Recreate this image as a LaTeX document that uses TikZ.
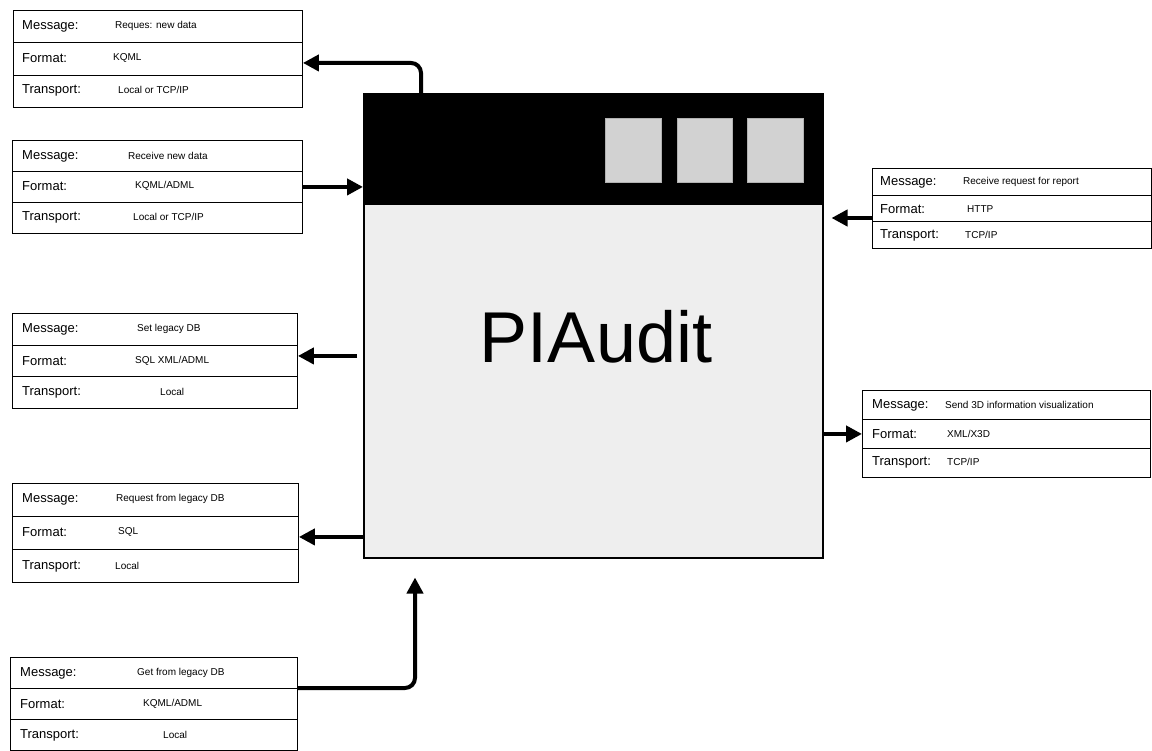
\documentclass[tikz,border=0pt]{standalone}
\usepackage{fontspec}
\setmainfont{Liberation Sans}
\usetikzlibrary{calc,arrows.meta}
\tikzset{
  infobox/.style={draw=black, line width=0.9pt, fill=white, inner sep=0pt, anchor=north west},
  lab/.style={anchor=west, inner sep=0pt, font=\fontsize{13}{15}\selectfont},
  val/.style={anchor=west, inner sep=0pt, font=\fontsize{10}{12}\selectfont},
  arr/.style={line width=4pt, -{Triangle[length=16pt,width=16pt]}},
  sq/.style={fill=gray!35, draw=gray!60, line width=0.5pt, inner sep=0pt, anchor=north west}
}
\newcommand\msgbox[5]{%
  \node[infobox, minimum width=#4pt, minimum height=#5pt] (#1) at (#2,#3) {};
  \draw[line width=0.9pt] ($(#1.north west)!1/3!(#1.south west)$) -- ($(#1.north east)!1/3!(#1.south east)$);
  \draw[line width=0.9pt] ($(#1.north west)!2/3!(#1.south west)$) -- ($(#1.north east)!2/3!(#1.south east)$);
}
\begin{document}
\begin{tikzpicture}[x=1pt,y=-1pt]
\useasboundingbox[fill=white] (0,0) rectangle (1152,751);

% main window
\node[draw=black, line width=1.5pt, fill=gray!13, inner sep=0pt, anchor=north west,
      minimum width=459pt, minimum height=464pt] (main) at (363,93) {};
\node[fill=black, inner sep=0pt, anchor=north west, minimum width=459pt, minimum height=112pt] (header) at (363,93) {};
\node[sq, minimum width=56pt, minimum height=64pt] (sq1) at (605,118) {};
\node[sq, minimum width=55pt, minimum height=64pt] (sq2) at (677,118) {};
\node[sq, minimum width=56pt, minimum height=64pt] (sq3) at (747,118) {};
\node[anchor=base, inner sep=0pt, font=\fontsize{72}{80}\selectfont] (title) at (596,363) {PIAudit};

% left boxes
\msgbox{b1}{13}{10}{289}{97}
\node[lab] (b1m) at (22,26) {Message:};
\node[val] (b1mv) at (115,26) {Reques: new data};
\node[lab] (b1f) at (22,58) {Format:};
\node[val] (b1fv) at (113,58) {KQML};
\node[lab] (b1t) at (22,90) {Transport:};
\node[val] (b1tv) at (118,90) {Local or TCP/IP};

\msgbox{b2}{12}{140}{290}{93}
\node[lab] (b2m) at (22,156) {Message:};
\node[val] (b2mv) at (128,156) {Receive new data};
\node[lab] (b2f) at (22,186) {Format:};
\node[val] (b2fv) at (135,186) {KQML/ADML};
\node[lab] (b2t) at (22,217) {Transport:};
\node[val] (b2tv) at (133,217) {Local or TCP/IP};

\msgbox{b3}{12}{313}{285}{95}
\node[lab] (b3m) at (22,329) {Message:};
\node[val] (b3mv) at (137,329) {Set legacy DB};
\node[lab] (b3f) at (22,361) {Format:};
\node[val] (b3fv) at (135,361) {SQL XML/ADML};
\node[lab] (b3t) at (22,392) {Transport:};
\node[val] (b3tv) at (160,392) {Local};

\msgbox{b4}{12}{483}{286}{99}
\node[lab] (b4m) at (22,499) {Message:};
\node[val] (b4mv) at (116,499) {Request from legacy DB};
\node[lab] (b4f) at (22,532) {Format:};
\node[val] (b4fv) at (118,532) {SQL};
\node[lab] (b4t) at (22,566) {Transport:};
\node[val] (b4tv) at (115,566) {Local};

\msgbox{b5}{10}{657}{287}{93}
\node[lab] (b5m) at (20,673) {Message:};
\node[val] (b5mv) at (137,673) {Get from legacy DB};
\node[lab] (b5f) at (20,704) {Format:};
\node[val] (b5fv) at (143,704) {KQML/ADML};
\node[lab] (b5t) at (20,735) {Transport:};
\node[val] (b5tv) at (163,735) {Local};

% right boxes
\msgbox{r1}{872}{168}{279}{80}
\node[lab] (r1m) at (880,182) {Message:};
\node[val] (r1mv) at (963,182) {Receive request for report};
\node[lab] (r1f) at (880,209) {Format:};
\node[val] (r1fv) at (967,209) {HTTP};
\node[lab] (r1t) at (880,235) {Transport:};
\node[val] (r1tv) at (965,235) {TCP/IP};

\msgbox{r2}{862}{390}{288}{87}
\node[lab] (r2m) at (872,405) {Message:};
\node[val] (r2mv) at (945,405) {Send 3D information visualization};
\node[lab] (r2f) at (872,434) {Format:};
\node[val] (r2fv) at (947,434) {XML/X3D};
\node[lab] (r2t) at (872,462) {Transport:};
\node[val] (r2tv) at (947,462) {TCP/IP};

% connectors
\draw[arr, rounded corners=10pt] ($(main.north west)+(58,0)$) |- ($(b1.east)+(0,4)$);
\draw[arr] (b2.east) -- (main.west |- b2.east);
\draw[arr] ($(main.west |- b3.east)+(-6,-5)$) -- ($(b3.east)+(0,-5)$);
\draw[arr] ($(main.west |- b4.east)+(0,4)$) -- ($(b4.east)+(0,4)$);
\draw[arr, rounded corners=10pt] ($(b5.north east)+(0,31)$) -| ($(main.south west)+(52,19)$);
\draw[arr] ($(r1.north west)+(0,50)$) -- ($(main.east |- r1.north west)+(8,50)$);
\draw[arr] (main.east |- r2.west) -- (r2.west);
\end{tikzpicture}
\end{document}
